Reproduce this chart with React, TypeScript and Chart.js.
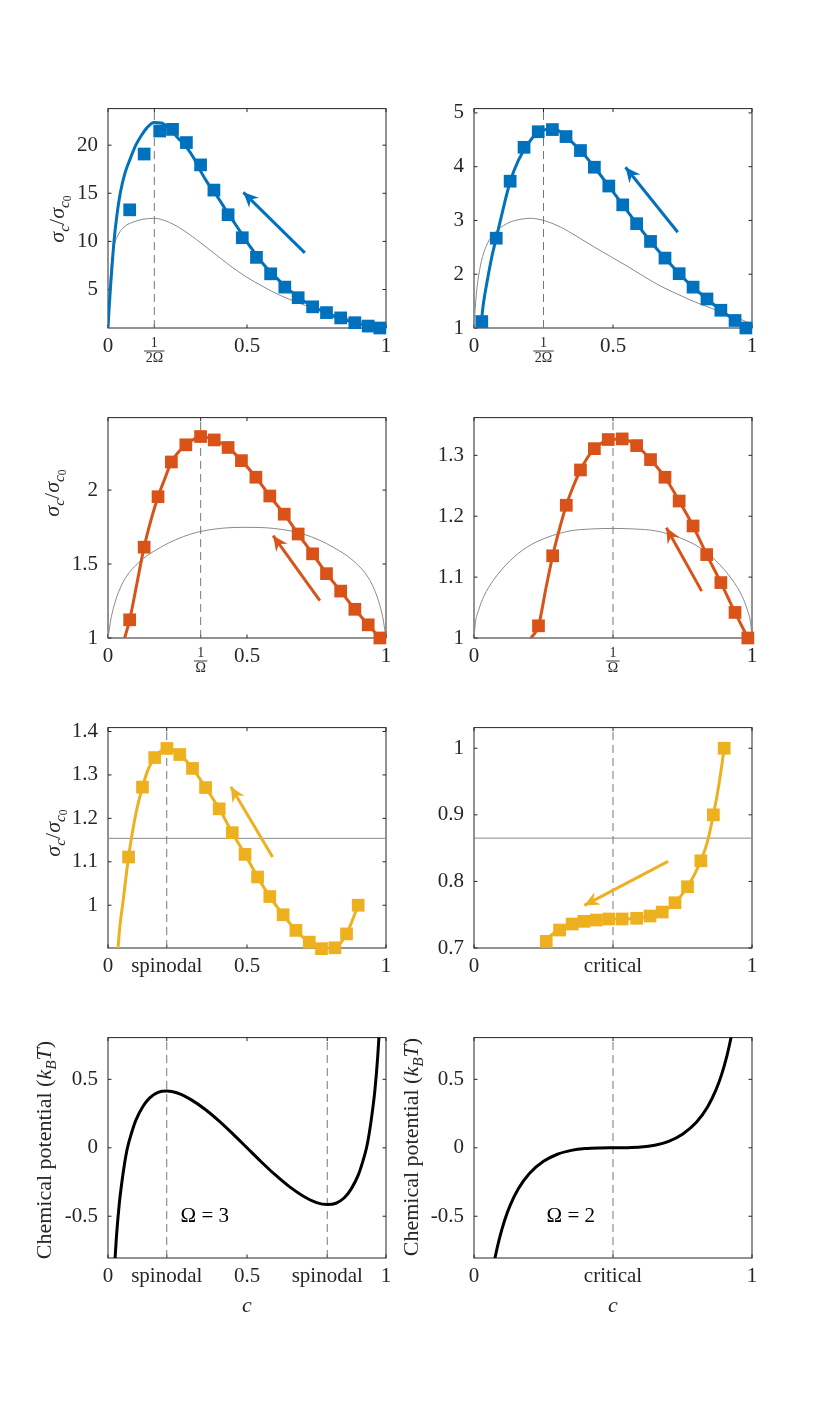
import React, { useEffect, useRef } from "react";
import { Chart, registerables } from "chart.js";
Chart.register(...registerables);

const BLUE = "#0072BD";
const ORANGE = "#D95319";
const YELLOW = "#EDB120";
const GRAY = "#8a8a8a";
const DASH_GRAY = "#777777";
const AXIS = "#262626";
const FONT = '"Liberation Serif", "DejaVu Serif", serif';
const TICK_SIZE = 21;

// ---------- Panel A (Omega = 3, blue) ----------
const aMarkC = [0.078, 0.13, 0.186, 0.232, 0.282, 0.333, 0.381, 0.432, 0.483, 0.534, 0.585, 0.636, 0.684, 0.736, 0.786, 0.837, 0.888, 0.936, 0.978];
const aMarkV = [13.28, 19.08, 21.47, 21.64, 20.27, 17.95, 15.33, 12.77, 10.38, 8.34, 6.63, 5.25, 4.15, 3.2, 2.6, 2.05, 1.55, 1.2, 1.0];
const aCurveC = [0, 0.004, 0.0084, 0.015, 0.0216, 0.032, 0.044, 0.06, 0.08, 0.1, 0.12, 0.14, 0.166, 0.192, 0.222, 0.25, 0.282, 0.31, 0.333, 0.36, 0.381, 0.41, 0.432, 0.46, 0.483, 0.51, 0.534, 0.56, 0.585, 0.61, 0.636, 0.66, 0.684, 0.71, 0.736, 0.76, 0.786, 0.81, 0.837, 0.86, 0.888, 0.91, 0.936, 0.96, 0.978, 1.0];
const aCurveV = [1, 3, 5, 7.6, 10, 12.7, 15, 17, 18.6, 20, 21, 21.8, 22.35, 22.3, 21.7, 20.8, 19.8, 18.6, 17.3, 16, 15.2, 13.9, 12.9, 11.7, 10.7, 9.5, 8.6, 7.6, 6.8, 6.1, 5.35, 4.75, 4.2, 3.7, 3.25, 2.9, 2.55, 2.25, 2.0, 1.78, 1.55, 1.4, 1.22, 1.1, 1.03, 1.0];
const aGrayC = [0, 0.004, 0.008, 0.018, 0.032, 0.054, 0.09, 0.126, 0.166, 0.21, 0.258, 0.318, 0.378, 0.438, 0.498, 0.558, 0.618, 0.678, 0.738, 0.798, 0.858, 0.918, 1];
const aGrayV = [1, 3.5, 6.3, 9.0, 10.4, 11.4, 12.0, 12.3, 12.4, 12.1, 11.4, 10.2, 8.85, 7.5, 6.3, 5.3, 4.4, 3.7, 3.05, 2.54, 2.03, 1.62, 1.15];
const aArrowFrom: [number, number] = [0.708, 8.8];
const aArrowTo: [number, number] = [0.487, 15.1];

// ---------- Panel B (Omega = 2, blue) ----------
const bMarkC = [0.028, 0.08, 0.13, 0.18, 0.231, 0.282, 0.331, 0.383, 0.433, 0.485, 0.535, 0.585, 0.635, 0.687, 0.738, 0.788, 0.838, 0.888, 0.939, 0.978];
const bMarkV = [1.12, 2.67, 3.73, 4.36, 4.65, 4.69, 4.56, 4.3, 3.99, 3.64, 3.29, 2.94, 2.61, 2.3, 2.01, 1.76, 1.54, 1.33, 1.14, 1.0];
const bCurveC = [0.024, 0.034, 0.046, 0.064, 0.08, 0.1, 0.13, 0.16, 0.19, 0.22, 0.25, 0.283, 0.31, 0.331, 0.383, 0.433, 0.485, 0.535, 0.585, 0.635, 0.687, 0.738, 0.788, 0.838, 0.888, 0.939, 0.978];
const bCurveV = [1, 1.46, 1.83, 2.32, 2.67, 3.11, 3.72, 4.12, 4.39, 4.59, 4.68, 4.71, 4.65, 4.56, 4.3, 3.99, 3.64, 3.29, 2.94, 2.61, 2.3, 2.01, 1.76, 1.54, 1.33, 1.14, 1.0];
const bGrayC = [0, 0.004, 0.01, 0.022, 0.04, 0.07, 0.118, 0.166, 0.202, 0.25, 0.31, 0.371, 0.431, 0.491, 0.551, 0.611, 0.671, 0.732, 0.792, 0.852, 0.912, 0.96, 1];
const bGrayV = [1, 1.34, 1.71, 2.13, 2.47, 2.74, 2.94, 3.02, 3.04, 3.0, 2.88, 2.7, 2.51, 2.33, 2.15, 1.96, 1.78, 1.63, 1.49, 1.37, 1.25, 1.16, 1.07];
const bArrowFrom: [number, number] = [0.733, 2.78];
const bArrowTo: [number, number] = [0.545, 3.99];

// ---------- Panel C (Omega = 3, orange) ----------
const cMarkC = [0.078, 0.13, 0.18, 0.228, 0.28, 0.333, 0.382, 0.432, 0.48, 0.532, 0.582, 0.634, 0.684, 0.736, 0.786, 0.837, 0.888, 0.936, 0.978];
const cMarkV = [1.123, 1.614, 1.955, 2.19, 2.306, 2.362, 2.339, 2.288, 2.199, 2.087, 1.96, 1.837, 1.703, 1.569, 1.435, 1.317, 1.194, 1.089, 1.0];
const cCurveC = [0.06, 0.078, 0.1, 0.13, 0.155, 0.18, 0.205, 0.228, 0.255, 0.28, 0.31, 0.333, 0.382, 0.432, 0.48, 0.532, 0.582, 0.634, 0.684, 0.736, 0.786, 0.837, 0.888, 0.936, 0.978];
const cCurveV = [1, 1.123, 1.33, 1.614, 1.8, 1.955, 2.08, 2.19, 2.26, 2.306, 2.345, 2.362, 2.339, 2.288, 2.199, 2.087, 1.96, 1.837, 1.703, 1.569, 1.435, 1.317, 1.194, 1.089, 1.0];
const cGrayC = [0, 0.003, 0.01, 0.028, 0.058, 0.106, 0.19, 0.298, 0.4, 0.5, 0.6, 0.702, 0.81, 0.894, 0.942, 0.972, 0.99, 0.997, 1];
const cGrayV = [1, 1.035, 1.123, 1.257, 1.39, 1.502, 1.614, 1.703, 1.74, 1.748, 1.74, 1.703, 1.614, 1.502, 1.39, 1.257, 1.123, 1.035, 1];
const cArrowFrom: [number, number] = [0.762, 1.252];
const cArrowTo: [number, number] = [0.594, 1.692];

// ---------- Panel D (Omega = 2, orange) ----------
const dMarkC = [0.232, 0.283, 0.332, 0.383, 0.433, 0.483, 0.533, 0.585, 0.635, 0.687, 0.738, 0.788, 0.837, 0.888, 0.939, 0.985];
const dMarkV = [1.02, 1.135, 1.218, 1.276, 1.311, 1.326, 1.327, 1.316, 1.293, 1.264, 1.225, 1.184, 1.137, 1.091, 1.042, 1.0];
const dCurveC = [0.205, 0.232, 0.258, 0.283, 0.308, 0.332, 0.358, 0.383, 0.408, 0.433, 0.458, 0.483, 0.533, 0.585, 0.635, 0.687, 0.738, 0.788, 0.837, 0.888, 0.939, 0.985];
const dCurveV = [1, 1.02, 1.08, 1.135, 1.18, 1.218, 1.25, 1.276, 1.296, 1.311, 1.32, 1.326, 1.327, 1.316, 1.293, 1.264, 1.225, 1.184, 1.137, 1.091, 1.042, 1.0];
const dGrayC = [0, 0.005, 0.016, 0.035, 0.07, 0.13, 0.19, 0.262, 0.347, 0.42, 0.5, 0.58, 0.653, 0.738, 0.81, 0.87, 0.93, 0.965, 0.984, 0.995, 1];
const dGrayV = [1, 1.025, 1.045, 1.068, 1.095, 1.127, 1.149, 1.165, 1.176, 1.179, 1.18, 1.179, 1.176, 1.165, 1.149, 1.127, 1.095, 1.068, 1.045, 1.025, 1];
const dArrowFrom: [number, number] = [0.819, 1.077];
const dArrowTo: [number, number] = [0.692, 1.181];

// ---------- Panel E (Omega = 3, yellow) ----------
const eMarkC = [0.074, 0.124, 0.168, 0.212, 0.258, 0.304, 0.351, 0.4, 0.447, 0.493, 0.538, 0.582, 0.63, 0.676, 0.724, 0.768, 0.816, 0.858, 0.9];
const eMarkV = [1.111, 1.272, 1.34, 1.361, 1.347, 1.315, 1.271, 1.222, 1.167, 1.117, 1.065, 1.02, 0.978, 0.942, 0.915, 0.9, 0.902, 0.934, 1.0];
const eCurveC = [0.036, 0.042, 0.054, 0.074, 0.1, 0.124, 0.146, 0.168, 0.19, 0.212, 0.258, 0.304, 0.351, 0.4, 0.447, 0.493, 0.538, 0.582, 0.63, 0.676, 0.724, 0.768, 0.816, 0.858, 0.9];
const eCurveV = [0.9015, 0.947, 1.008, 1.111, 1.21, 1.272, 1.315, 1.34, 1.355, 1.361, 1.347, 1.315, 1.271, 1.222, 1.167, 1.117, 1.065, 1.02, 0.978, 0.942, 0.915, 0.9, 0.902, 0.934, 1.0];
const eFlatLevel = 1.154;
const eArrowFrom: [number, number] = [0.592, 1.111];
const eArrowTo: [number, number] = [0.442, 1.273];

// ---------- Panel F (Omega = 2, yellow) ----------
const fMarkC = [0.26, 0.308, 0.353, 0.395, 0.44, 0.485, 0.533, 0.585, 0.633, 0.677, 0.723, 0.768, 0.816, 0.861, 0.9];
const fMarkV = [0.71, 0.727, 0.736, 0.74, 0.742, 0.7436, 0.7436, 0.7446, 0.748, 0.754, 0.768, 0.792, 0.831, 0.9, 1.0];
const fCurveC = [0.252, 0.26, 0.308, 0.353, 0.395, 0.44, 0.485, 0.533, 0.585, 0.633, 0.677, 0.723, 0.768, 0.79, 0.816, 0.84, 0.861, 0.882, 0.9];
const fCurveV = [0.7, 0.71, 0.727, 0.736, 0.74, 0.742, 0.7436, 0.7436, 0.7446, 0.748, 0.754, 0.768, 0.792, 0.808, 0.831, 0.86, 0.9, 0.948, 1.0];
const fFlatLevel = 0.865;
const fArrowFrom: [number, number] = [0.698, 0.83];
const fArrowTo: [number, number] = [0.397, 0.764];

// ---------- Panel G (chemical potential, Omega = 3) ----------
const gC = [0.02, 0.025, 0.03, 0.04, 0.05, 0.06, 0.07, 0.085, 0.1, 0.125, 0.15, 0.18, 0.211, 0.25, 0.3, 0.35, 0.4, 0.45, 0.5, 0.55, 0.6, 0.65, 0.7, 0.75, 0.789, 0.82, 0.85, 0.875, 0.9, 0.915, 0.93, 0.94, 0.95, 0.96, 0.97, 0.975, 0.98];
const gMu = [-1.0, -0.82, -0.66, -0.42, -0.25, -0.11, 0.0, 0.11, 0.2, 0.3, 0.365, 0.405, 0.415, 0.4, 0.35, 0.28, 0.195, 0.1, 0, -0.1, -0.195, -0.28, -0.35, -0.4, -0.415, -0.405, -0.365, -0.3, -0.2, -0.11, 0.0, 0.11, 0.25, 0.42, 0.66, 0.82, 1.0];

// ---------- Panel H (chemical potential, Omega = 2) ----------
const hC = [0.06, 0.07, 0.076, 0.09, 0.11, 0.13, 0.16, 0.2, 0.25, 0.3, 0.35, 0.4, 0.45, 0.5, 0.55, 0.6, 0.65, 0.7, 0.75, 0.8, 0.84, 0.87, 0.89, 0.91, 0.924, 0.93, 0.94];
const hMu = [-0.99, -0.867, -0.8, -0.674, -0.531, -0.421, -0.298, -0.186, -0.099, -0.047, -0.019, -0.005, -0.0007, 0, 0.0007, 0.005, 0.019, 0.047, 0.099, 0.186, 0.298, 0.421, 0.531, 0.674, 0.8, 0.867, 0.99];

// ---------- special positions & tick labels ----------
const spinodalLow = 0.2113;
const spinodalHigh = 0.7887;
const critical = 0.5;
const halfInvOmega3 = 0.1667;
const halfInvOmega2 = 0.25;
const invOmega3 = 0.3333;
const invOmega2 = 0.5;

const yTicksA = [5, 10, 15, 20];
const yTicksB = [1, 2, 3, 4, 5];
const yTicksC = [1, 1.5, 2];
const yTicksD = [1, 1.1, 1.2, 1.3];
const yTicksE = [1, 1.1, 1.2, 1.3, 1.4];
const yTicksF = [0.7, 0.8, 0.9, 1];
const yTicksMu = [-0.5, 0, 0.5];
const yTickLabelsA = ["5", "10", "15", "20"];
const yTickLabelsB = ["1", "2", "3", "4", "5"];
const yTickLabelsC = ["1", "1.5", "2"];
const yTickLabelsD = ["1", "1.1", "1.2", "1.3"];
const yTickLabelsE = ["1", "1.1", "1.2", "1.3", "1.4"];
const yTickLabelsF = ["0.7", "0.8", "0.9", "1"];
const yTickLabelsMu = ["-0.5", "0", "0.5"];

type XTick = { v: number; label: string; frac?: [string, string] };
type ArrowSpec = { from: [number, number]; to: [number, number]; color: string };
type TextSpec = { x: number; y: number; text: string };
type Spec = {
  id: string;
  left: number;
  top: number;
  width: number;
  height: number;
  yMin: number;
  yMax: number;
  xTicks: XTick[];
  yTicks: number[];
  yTickLabels: string[];
  datasets: any[];
  arrows: ArrowSpec[];
  texts: TextSpec[];
};

function pts(xs: number[], ys: number[]) {
  return xs.map((x, i) => ({ x, y: ys[i] }));
}
function curve(xs: number[], ys: number[], color: string, width: number, order: number) {
  return {
    data: pts(xs, ys),
    showLine: true,
    borderColor: color,
    borderWidth: width,
    pointRadius: 0,
    cubicInterpolationMode: "monotone",
    clip: 0,
    fill: false,
    order,
  };
}
function markers(xs: number[], ys: number[], color: string) {
  return {
    data: pts(xs, ys),
    showLine: false,
    pointStyle: "rect",
    pointRadius: 9,
    pointBackgroundColor: color,
    pointBorderColor: color,
    pointBorderWidth: 0,
    clip: false,
    order: 1,
  };
}
function vline(x: number, y0: number, y1: number) {
  return {
    data: [{ x, y: y0 }, { x, y: y1 }],
    showLine: true,
    borderColor: DASH_GRAY,
    borderWidth: 1,
    borderDash: [8, 5],
    pointRadius: 0,
    clip: 0,
    order: 3,
  };
}
function hline(y: number) {
  return {
    data: [{ x: 0, y }, { x: 1, y }],
    showLine: true,
    borderColor: GRAY,
    borderWidth: 1,
    pointRadius: 0,
    clip: 0,
    order: 4,
  };
}
function shaft(a: ArrowSpec) {
  return {
    data: [{ x: a.from[0], y: a.from[1] }, { x: a.to[0], y: a.to[1] }],
    showLine: true,
    borderColor: a.color,
    borderWidth: 3,
    borderCapStyle: "butt",
    pointRadius: 0,
    clip: false,
    order: 0,
  };
}

const LX = 108;
const RX = 474;
const PW = 278;

const arrowA = { from: aArrowFrom, to: aArrowTo, color: BLUE };
const arrowB = { from: bArrowFrom, to: bArrowTo, color: BLUE };
const arrowC = { from: cArrowFrom, to: cArrowTo, color: ORANGE };
const arrowD = { from: dArrowFrom, to: dArrowTo, color: ORANGE };
const arrowE = { from: eArrowFrom, to: eArrowTo, color: YELLOW };
const arrowF = { from: fArrowFrom, to: fArrowTo, color: YELLOW };

const specs: Spec[] = [
  {
    id: "a", left: LX, top: 106, width: PW, height: 222, yMin: 1, yMax: 23.8,
    xTicks: [{ v: 0, label: "0" }, { v: halfInvOmega3, label: "", frac: ["1", "2Ω"] }, { v: 0.5, label: "0.5" }, { v: 1, label: "1" }],
    yTicks: yTicksA, yTickLabels: yTickLabelsA,
    datasets: [
      curve(aGrayC, aGrayV, GRAY, 1, 4),
      vline(halfInvOmega3, 1, 23.8),
      curve(aCurveC, aCurveV, BLUE, 3, 2),
      markers(aMarkC, aMarkV, BLUE),
      shaft(arrowA),
    ],
    arrows: [arrowA], texts: [],
  },
  {
    id: "b", left: RX, top: 106, width: PW, height: 222, yMin: 1, yMax: 5.08,
    xTicks: [{ v: 0, label: "0" }, { v: halfInvOmega2, label: "", frac: ["1", "2Ω"] }, { v: 0.5, label: "0.5" }, { v: 1, label: "1" }],
    yTicks: yTicksB, yTickLabels: yTickLabelsB,
    datasets: [
      curve(bGrayC, bGrayV, GRAY, 1, 4),
      vline(halfInvOmega2, 1, 5.08),
      curve(bCurveC, bCurveV, BLUE, 3, 2),
      markers(bMarkC, bMarkV, BLUE),
      shaft(arrowB),
    ],
    arrows: [arrowB], texts: [],
  },
  {
    id: "c", left: LX, top: 415, width: PW, height: 223, yMin: 1, yMax: 2.49,
    xTicks: [{ v: 0, label: "0" }, { v: invOmega3, label: "", frac: ["1", "Ω"] }, { v: 0.5, label: "0.5" }, { v: 1, label: "1" }],
    yTicks: yTicksC, yTickLabels: yTickLabelsC,
    datasets: [
      curve(cGrayC, cGrayV, GRAY, 1, 4),
      vline(invOmega3, 1, 2.49),
      curve(cCurveC, cCurveV, ORANGE, 3, 2),
      markers(cMarkC, cMarkV, ORANGE),
      shaft(arrowC),
    ],
    arrows: [arrowC], texts: [],
  },
  {
    id: "d", left: RX, top: 415, width: PW, height: 223, yMin: 1, yMax: 1.362,
    xTicks: [{ v: 0, label: "0" }, { v: invOmega2, label: "", frac: ["1", "Ω"] }, { v: 1, label: "1" }],
    yTicks: yTicksD, yTickLabels: yTickLabelsD,
    datasets: [
      curve(dGrayC, dGrayV, GRAY, 1, 4),
      vline(invOmega2, 1, 1.362),
      curve(dCurveC, dCurveV, ORANGE, 3, 2),
      markers(dMarkC, dMarkV, ORANGE),
      shaft(arrowD),
    ],
    arrows: [arrowD], texts: [],
  },
  {
    id: "e", left: LX, top: 725, width: PW, height: 223, yMin: 0.9015, yMax: 1.409,
    xTicks: [{ v: 0, label: "0" }, { v: spinodalLow, label: "spinodal" }, { v: 0.5, label: "0.5" }, { v: 1, label: "1" }],
    yTicks: yTicksE, yTickLabels: yTickLabelsE,
    datasets: [
      hline(eFlatLevel),
      vline(spinodalLow, 0.9015, 1.409),
      curve(eCurveC, eCurveV, YELLOW, 3, 2),
      markers(eMarkC, eMarkV, YELLOW),
      shaft(arrowE),
    ],
    arrows: [arrowE], texts: [],
  },
  {
    id: "f", left: RX, top: 725, width: PW, height: 223, yMin: 0.7, yMax: 1.031,
    xTicks: [{ v: 0, label: "0" }, { v: critical, label: "critical" }, { v: 1, label: "1" }],
    yTicks: yTicksF, yTickLabels: yTickLabelsF,
    datasets: [
      hline(fFlatLevel),
      vline(critical, 0.7, 1.031),
      curve(fCurveC, fCurveV, YELLOW, 3, 2),
      markers(fMarkC, fMarkV, YELLOW),
      shaft(arrowF),
    ],
    arrows: [arrowF], texts: [],
  },
  {
    id: "g", left: LX, top: 1035, width: PW, height: 223, yMin: -0.805, yMax: 0.805,
    xTicks: [{ v: 0, label: "0" }, { v: spinodalLow, label: "spinodal" }, { v: 0.5, label: "0.5" }, { v: spinodalHigh, label: "spinodal" }, { v: 1, label: "1" }],
    yTicks: yTicksMu, yTickLabels: yTickLabelsMu,
    datasets: [
      vline(spinodalLow, -0.805, 0.805),
      vline(spinodalHigh, -0.805, 0.805),
      curve(gC, gMu, "#000000", 3, 2),
    ],
    arrows: [], texts: [{ x: 0.348, y: -0.5, text: "Ω = 3" }],
  },
  {
    id: "h", left: RX, top: 1035, width: PW, height: 223, yMin: -0.805, yMax: 0.805,
    xTicks: [{ v: 0, label: "0" }, { v: critical, label: "critical" }, { v: 1, label: "1" }],
    yTicks: yTicksMu, yTickLabels: yTickLabelsMu,
    datasets: [
      vline(critical, -0.805, 0.805),
      curve(hC, hMu, "#000000", 3, 2),
    ],
    arrows: [], texts: [{ x: 0.348, y: -0.5, text: "Ω = 2" }],
  },
];

const PAD_L = 70;
const PAD_R = 20;
const PAD_T = 20;
const PAD_B = 45;

function makePlugin(s: Spec) {
  return {
    id: "frame_" + s.id,
    beforeDatasetsDraw(chart: any) {
      const { ctx, chartArea: a, scales } = chart;
      const xs = scales.x;
      const ys = scales.y;
      ctx.save();
      ctx.strokeStyle = AXIS;
      ctx.lineWidth = 1;
      ctx.strokeRect(a.left, a.top, a.right - a.left, a.bottom - a.top);
      const tl = 3.5;
      ctx.beginPath();
      for (const t of s.xTicks) {
        const px = xs.getPixelForValue(t.v);
        ctx.moveTo(px, a.bottom);
        ctx.lineTo(px, a.bottom - tl);
        ctx.moveTo(px, a.top);
        ctx.lineTo(px, a.top + tl);
      }
      for (const v of s.yTicks) {
        const py = ys.getPixelForValue(v);
        ctx.moveTo(a.left, py);
        ctx.lineTo(a.left + tl, py);
        ctx.moveTo(a.right, py);
        ctx.lineTo(a.right - tl, py);
      }
      ctx.stroke();
      ctx.restore();
    },
    afterDatasetsDraw(chart: any) {
      const { ctx, scales } = chart;
      const xs = scales.x;
      const ys = scales.y;
      ctx.save();
      for (const ar of s.arrows) {
        const x0 = xs.getPixelForValue(ar.from[0]);
        const y0 = ys.getPixelForValue(ar.from[1]);
        const x1 = xs.getPixelForValue(ar.to[0]);
        const y1 = ys.getPixelForValue(ar.to[1]);
        const ang = Math.atan2(y1 - y0, x1 - x0);
        const ux = Math.cos(ang);
        const uy = Math.sin(ang);
        const nx = -uy;
        const ny = ux;
        const L = 15;
        const W = 7;
        const bx = x1 - ux * L;
        const by = y1 - uy * L;
        const notchX = x1 - ux * L * 0.68;
        const notchY = y1 - uy * L * 0.68;
        ctx.fillStyle = ar.color;
        ctx.beginPath();
        ctx.moveTo(x1, y1);
        ctx.lineTo(bx + nx * W, by + ny * W);
        ctx.lineTo(notchX, notchY);
        ctx.lineTo(bx - nx * W, by - ny * W);
        ctx.closePath();
        ctx.fill();
      }
      for (const t of s.texts) {
        ctx.fillStyle = "#000";
        ctx.font = `21px ${FONT}`;
        ctx.textAlign = "center";
        ctx.textBaseline = "middle";
        ctx.fillText(t.text, xs.getPixelForValue(t.x), ys.getPixelForValue(t.y));
      }
      ctx.restore();
    },
    afterDraw(chart: any) {
      const { ctx, chartArea: a, scales } = chart;
      const xs = scales.x;
      ctx.save();
      for (const t of s.xTicks) {
        if (!t.frac) continue;
        const px = xs.getPixelForValue(t.v);
        ctx.fillStyle = AXIS;
        ctx.strokeStyle = AXIS;
        ctx.font = `14px ${FONT}`;
        ctx.textAlign = "center";
        ctx.textBaseline = "middle";
        ctx.fillText(t.frac[0], px, a.bottom + 15.5);
        ctx.fillText(t.frac[1], px, a.bottom + 30.5);
        const w = Math.max(ctx.measureText(t.frac[0]).width, ctx.measureText(t.frac[1]).width) + 3;
        ctx.lineWidth = 0.9;
        ctx.beginPath();
        ctx.moveTo(px - w / 2, a.bottom + 23);
        ctx.lineTo(px + w / 2, a.bottom + 23);
        ctx.stroke();
      }
      ctx.restore();
    },
  };
}

function Panel({ spec }: { spec: Spec }) {
  const ref = useRef<HTMLCanvasElement>(null);
  useEffect(() => {
    const s = spec;
    const chart = new Chart(ref.current as HTMLCanvasElement, {
      type: "scatter",
      data: { datasets: s.datasets as any },
      options: {
        animation: false,
        responsive: true,
        maintainAspectRatio: false,
        events: [],
        layout: { padding: { left: 0, right: PAD_R, top: PAD_T, bottom: 0 } },
        plugins: { legend: { display: false }, tooltip: { enabled: false } },
        scales: {
          x: {
            type: "linear",
            min: 0,
            max: 1,
            afterBuildTicks: (ax: any) => {
              ax.ticks = s.xTicks.map((t) => ({ value: t.v }));
            },
            afterFit: (ax: any) => {
              ax.height = PAD_B;
            },
            ticks: {
              autoSkip: false,
              maxRotation: 0,
              minRotation: 0,
              padding: 6,
              color: AXIS,
              font: { family: FONT, size: TICK_SIZE },
              callback: (_v: any, i: number) => {
                const t = s.xTicks[i];
                return t && !t.frac ? t.label : "";
              },
            },
            grid: { display: false, drawTicks: false },
            border: { display: false },
          },
          y: {
            type: "linear",
            min: s.yMin,
            max: s.yMax,
            afterBuildTicks: (ax: any) => {
              ax.ticks = s.yTicks.map((v) => ({ value: v }));
            },
            afterFit: (ax: any) => {
              ax.width = PAD_L;
            },
            ticks: {
              autoSkip: false,
              padding: 10,
              color: AXIS,
              font: { family: FONT, size: TICK_SIZE },
              callback: (_v: any, i: number) => s.yTickLabels[i] ?? "",
            },
            grid: { display: false, drawTicks: false },
            border: { display: false },
          },
        },
      } as any,
      plugins: [makePlugin(s)],
    });
    return () => chart.destroy();
  }, [spec]);
  return (
    <div
      style={{
        position: "absolute",
        left: spec.left - PAD_L,
        top: spec.top - PAD_T,
        width: spec.width + PAD_L + PAD_R,
        height: spec.height + PAD_T + PAD_B,
      }}
    >
      <canvas ref={ref} />
    </div>
  );
}

function RotLabel({ cx, cy, size, children }: { cx: number; cy: number; size: number; children: any }) {
  return (
    <div
      style={{
        position: "absolute",
        left: cx - 160,
        top: cy - 20,
        width: 320,
        height: 40,
        lineHeight: "40px",
        textAlign: "center",
        transform: "rotate(-90deg)",
        fontFamily: FONT,
        fontSize: size,
        color: AXIS,
        whiteSpace: "nowrap",
      }}
    >
      {children}
    </div>
  );
}

const subStyle: React.CSSProperties = { fontSize: "0.7em", fontStyle: "italic", position: "relative", top: "0.3em" };
const subSubStyle: React.CSSProperties = { fontSize: "0.75em", fontStyle: "normal", position: "relative", top: "0.25em" };

function SigmaLabel() {
  return (
    <span>
      <i>σ</i>
      <span style={subStyle}>c</span>
      <span>/</span>
      <i>σ</i>
      <span style={subStyle}>
        c<span style={subSubStyle}>0</span>
      </span>
    </span>
  );
}

function MuLabel() {
  return (
    <span>
      Chemical potential (<i>k</i>
      <span style={subStyle}>B</span>
      <i>T</i>)
    </span>
  );
}

function XLabel({ cx, cy }: { cx: number; cy: number }) {
  return (
    <div
      style={{
        position: "absolute",
        left: cx - 30,
        top: cy - 15,
        width: 60,
        height: 30,
        lineHeight: "30px",
        textAlign: "center",
        fontFamily: FONT,
        fontSize: 22,
        fontStyle: "italic",
        color: AXIS,
      }}
    >
      c
    </div>
  );
}

export default function App() {
  return (
    <div
      style={{
        position: "absolute",
        left: 0,
        top: 0,
        width: 830,
        height: 1414,
        background: "#ffffff",
        overflow: "hidden",
      }}
    >
      {specs.map((s) => (
        <Panel key={s.id} spec={s} />
      ))}
      <RotLabel cx={57} cy={219} size={22}>
        <SigmaLabel />
      </RotLabel>
      <RotLabel cx={52} cy={493} size={22}>
        <SigmaLabel />
      </RotLabel>
      <RotLabel cx={53} cy={833} size={22}>
        <SigmaLabel />
      </RotLabel>
      <RotLabel cx={44} cy={1150} size={22}>
        <MuLabel />
      </RotLabel>
      <RotLabel cx={411} cy={1147} size={22}>
        <MuLabel />
      </RotLabel>
      <XLabel cx={247} cy={1305} />
      <XLabel cx={613} cy={1305} />
    </div>
  );
}
